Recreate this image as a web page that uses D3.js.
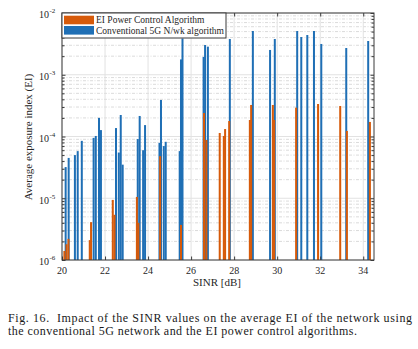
<html>
    <head>
        <style>
            body { margin: 0; background: #fff; }
        </style>
    </head>
    <body>
        <svg id="chart"></svg>

        <script src="https://d3js.org/d3.v7.min.js"></script>
        <script>
            // tick labels
            var sinrTicks = [20, 22, 24, 26, 28, 30, 32, 34];
            var eiDecades = [1e-6, 1e-5, 1e-4, 1e-3, 1e-2];
            var legendLabels = ["EI Power Control Algorithm", "Conventional 5G N/wk algorithm"];

            // EI power control algorithm (orange)
            var eiSinr = [20.11, 20.21, 20.30, 21.29, 21.35, 22.36, 22.44, 23.48, 23.55, 24.56,
                          25.53, 26.60, 26.71, 27.33, 27.52, 27.58, 27.77, 28.73, 28.79, 29.80,
                          29.86, 30.88, 31.90, 32.93, 33.24, 34.31];
            var eiValues = [1.4e-6, 1.8e-6, 2.2e-6, 2.1e-6, 4.1e-6, 9.4e-6, 5.4e-6, 1.05e-5, 4.0e-6, 4.8e-5,
                            3.7e-6, 2.4e-4, 8.8e-5, 1.14e-4, 1.02e-4, 1.32e-4, 1.78e-4, 1.85e-4, 3.24e-4, 3.24e-4,
                            1.85e-4, 2.93e-4, 3.36e-4, 3.12e-4, 1.23e-4, 1.72e-4];

            // conventional 5G network (blue)
            var convSinr = [20.17, 20.31, 20.60, 20.73, 20.92, 21.47, 21.57, 21.72, 21.81, 22.51,
                            22.64, 22.73, 22.82, 23.52, 23.61, 23.77, 23.86, 24.53, 24.60, 24.73,
                            24.82, 25.47, 25.53, 25.60, 26.58, 26.65, 26.78, 27.80, 28.87, 29.67,
                            29.89, 30.93, 31.12, 31.40, 31.71, 32.05, 33.21, 34.23];
            var convValues = [3.2e-5, 4.5e-5, 5.0e-5, 5.8e-5, 8.5e-5, 9.5e-5, 1.02e-4, 2.0e-4, 1.27e-4, 1.37e-4,
                              5.5e-5, 2.23e-4, 3.5e-5, 9.1e-5, 2.15e-4, 6.0e-5, 1.53e-4, 7.9e-5, 3.9e-4, 7.0e-5,
                              8.2e-5, 5.8e-5, 1.77e-3, 3.86e-3, 1.94e-3, 3.03e-3, 2.85e-3, 3.79e-3, 5.11e-3, 2.52e-3,
                              3.79e-3, 5.11e-3, 4.08e-3, 4.40e-3, 5.11e-3, 3.15e-3, 2.71e-3, 3.52e-3];

            var W = 418, H = 349;
            // plot box (window.top is reserved, so no bare "top")
            var plotL = 62, plotR = 374, plotT = 13, plotB = 260;
            var orange = "#d65a0a", blue = "#1f6fb5", axisColor = "#3a3a3a";
            var serif = "'Liberation Serif', 'Times New Roman', serif";

            let svg = d3.select("#chart").attr("width", W).attr("height", H);

            var x = d3.scaleLinear().domain([20, 34.5]).range([plotL, plotR]);
            var y = d3.scaleLog().domain([1e-6, 1e-2]).range([plotB, plotT]);

            var minors = [];
            eiDecades.slice(0, -1).forEach(d => { for (let k = 2; k <= 9; k++) minors.push(d * k); });

            // grid
            let grid = svg.append("g");
            grid.selectAll("line.minor").data(minors).enter().append("line")
                .attr("x1", plotL).attr("x2", plotR)
                .attr("y1", d => y(d)).attr("y2", d => y(d))
                .attr("stroke", "#d2d2d2").attr("stroke-width", 0.8)
                .attr("stroke-dasharray", "3,1.5,1,1.5");
            grid.selectAll("line.hmaj").data(eiDecades).enter().append("line")
                .attr("x1", plotL).attr("x2", plotR)
                .attr("y1", d => y(d)).attr("y2", d => y(d))
                .attr("stroke", "#e2e2e2").attr("stroke-width", 1);
            grid.selectAll("line.vmaj").data(sinrTicks).enter().append("line")
                .attr("x1", d => x(d)).attr("x2", d => x(d))
                .attr("y1", plotT).attr("y2", plotB)
                .attr("stroke", "#e2e2e2").attr("stroke-width", 1);

            // bars
            var barW = 2;
            svg.append("g").selectAll("rect")
                .data(convSinr.map((s, i) => [s, convValues[i]]))
                .enter().append("rect")
                .attr("x", d => x(d[0]) - barW / 2)
                .attr("width", barW)
                .attr("y", d => y(d[1]))
                .attr("height", d => y(1e-6) - y(d[1]))
                .attr("fill", blue);
            svg.append("g").selectAll("rect")
                .data(eiSinr.map((s, i) => [s, eiValues[i]]))
                .enter().append("rect")
                .attr("x", d => x(d[0]) - barW / 2)
                .attr("width", barW)
                .attr("y", d => y(d[1]))
                .attr("height", d => y(1e-6) - y(d[1]))
                .attr("fill", orange);

            // axes, ticks pointing inward
            function styleAxis(g) {
                g.select(".domain").remove();
                g.selectAll("line").attr("stroke", axisColor);
            }
            svg.append("g").attr("transform", `translate(0,${plotB})`)
                .call(d3.axisBottom(x).tickValues(sinrTicks).tickSize(-3.5).tickFormat(""))
                .call(styleAxis);
            svg.append("g").attr("transform", `translate(0,${plotT})`)
                .call(d3.axisTop(x).tickValues(sinrTicks).tickSize(-3.5).tickFormat(""))
                .call(styleAxis);
            svg.append("g").attr("transform", `translate(${plotL},0)`)
                .call(d3.axisLeft(y).tickValues(eiDecades).tickSize(-3.5).tickFormat(""))
                .call(styleAxis);
            svg.append("g").attr("transform", `translate(${plotL},0)`)
                .call(d3.axisLeft(y).tickValues(minors).tickSize(-2.5).tickFormat(""))
                .call(styleAxis);
            svg.append("g").attr("transform", `translate(${plotR},0)`)
                .call(d3.axisRight(y).tickValues(eiDecades).tickSize(-3.5).tickFormat(""))
                .call(styleAxis);
            svg.append("g").attr("transform", `translate(${plotR},0)`)
                .call(d3.axisRight(y).tickValues(minors).tickSize(-2.5).tickFormat(""))
                .call(styleAxis);

            svg.append("rect")
                .attr("x", plotL).attr("y", plotT)
                .attr("width", plotR - plotL).attr("height", plotB - plotT)
                .attr("fill", "none").attr("stroke", axisColor).attr("stroke-width", 1);

            // tick labels
            svg.append("g").selectAll("text").data(sinrTicks).enter().append("text")
                .attr("x", d => x(d)).attr("y", 273.5)
                .attr("text-anchor", "middle")
                .attr("font-family", serif).attr("font-size", 10).attr("fill", "#262626")
                .text(d => d);

            let yl = svg.append("g").selectAll("text").data(eiDecades).enter().append("text")
                .attr("x", 39).attr("y", d => y(d) + 5.3)
                .attr("font-family", serif).attr("font-size", 10).attr("fill", "#262626");
            yl.append("tspan").text("10");
            yl.append("tspan").attr("dy", -5).attr("dx", 0.5).attr("font-size", 7)
                .text(d => "-" + Math.round(-Math.log10(d)));

            // axis titles
            svg.append("text")
                .attr("x", 217).attr("y", 286)
                .attr("text-anchor", "middle")
                .attr("font-family", serif).attr("font-size", 11).attr("fill", "#262626")
                .text("SINR [dB]");
            svg.append("text")
                .attr("transform", "translate(31.5,137) rotate(-90)")
                .attr("text-anchor", "middle")
                .attr("font-family", serif).attr("font-size", 11).attr("fill", "#262626")
                .text("Average exposure index (EI)");

            // legend
            let legend = svg.append("g");
            legend.append("rect")
                .attr("x", 62).attr("y", 13).attr("width", 164).attr("height", 25)
                .attr("fill", "#fff").attr("stroke", axisColor).attr("stroke-width", 1);
            [orange, blue].forEach((c, i) => {
                legend.append("rect")
                    .attr("x", 64).attr("y", 15.7 + i * 10.3)
                    .attr("width", 30).attr("height", 8.6)
                    .attr("fill", c);
                legend.append("text")
                    .attr("x", 96).attr("y", 23.3 + i * 10.3)
                    .attr("font-family", serif).attr("font-size", 9.5).attr("fill", "#262626")
                    .text(legendLabels[i]);
            });

            // caption
            svg.append("text")
                .attr("x", 8).attr("y", 322)
                .attr("font-family", serif).attr("font-size", 12).attr("fill", "#1a1a1a")
                .attr("textLength", 404).attr("lengthAdjust", "spacing")
                .attr("xml:space", "preserve")
                .text("Fig. 16.  Impact of the SINR values on the average EI of the network using");
            svg.append("text")
                .attr("x", 8).attr("y", 334.5)
                .attr("font-family", serif).attr("font-size", 12).attr("fill", "#1a1a1a")
                .attr("textLength", 349).attr("lengthAdjust", "spacing")
                .text("the conventional 5G network and the EI power control algorithms.");
        </script>
    </body>
</html>
